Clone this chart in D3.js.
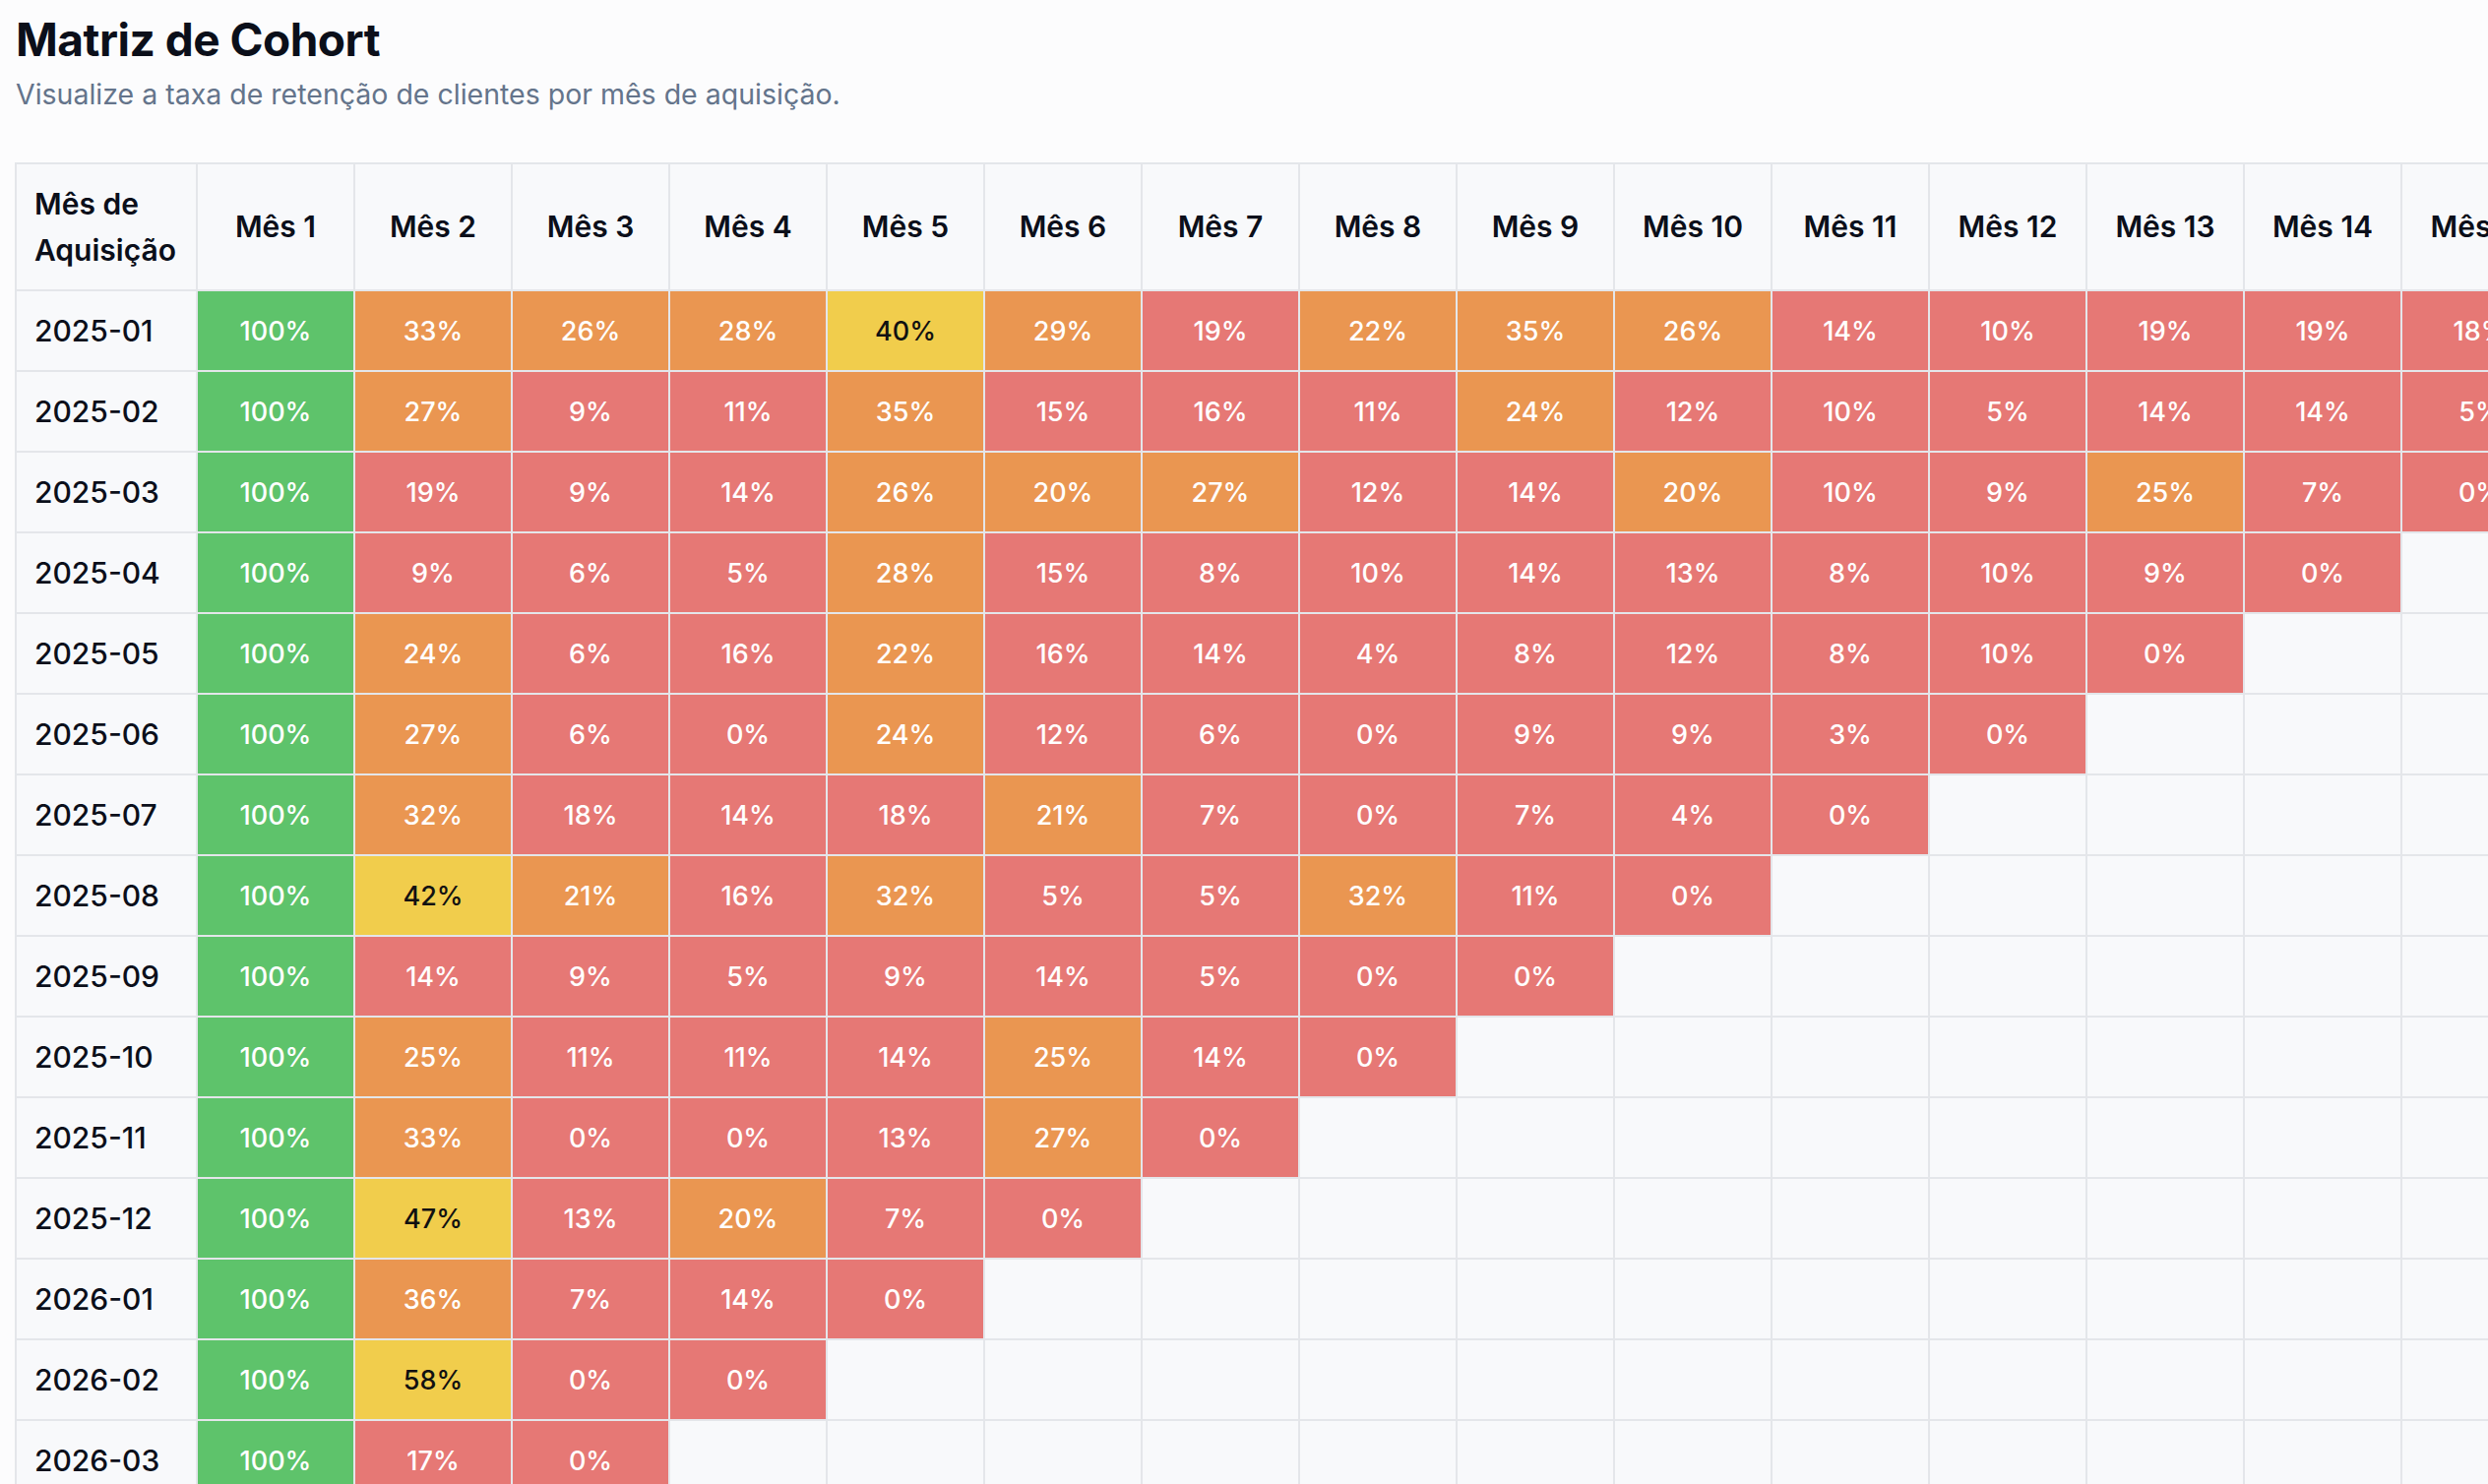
<!DOCTYPE html>
<html>
<head>
<meta charset="utf-8">
<script src="https://cdn.jsdelivr.net/npm/d3@7"></script>
<style>
  html, body { margin: 0; padding: 0; width: 2528px; height: 1508px; overflow: hidden; background: #fcfcfd; }
  svg { display: block; font-family: Inter, "Noto Sans", sans-serif; }
</style>
</head>
<body>
<svg id="chart" width="2528" height="1508"></svg>
<script>
const title = "Matriz de Cohort";
const subtitle = "Visualize a taxa de retenção de clientes por mês de aquisição.";
const cornerLabel = ["Mês de", "Aquisição"];
const months = ["Mês 1","Mês 2","Mês 3","Mês 4","Mês 5","Mês 6","Mês 7","Mês 8","Mês 9","Mês 10","Mês 11","Mês 12","Mês 13","Mês 14","Mês 15"];
const cohorts = ["2025-01","2025-02","2025-03","2025-04","2025-05","2025-06","2025-07","2025-08","2025-09","2025-10","2025-11","2025-12","2026-01","2026-02","2026-03"];
const r2025_01 = [100,33,26,28,40,29,19,22,35,26,14,10,19,19,18];
const r2025_02 = [100,27,9,11,35,15,16,11,24,12,10,5,14,14,5];
const r2025_03 = [100,19,9,14,26,20,27,12,14,20,10,9,25,7,0];
const r2025_04 = [100,9,6,5,28,15,8,10,14,13,8,10,9,0];
const r2025_05 = [100,24,6,16,22,16,14,4,8,12,8,10,0];
const r2025_06 = [100,27,6,0,24,12,6,0,9,9,3,0];
const r2025_07 = [100,32,18,14,18,21,7,0,7,4,0];
const r2025_08 = [100,42,21,16,32,5,5,32,11,0];
const r2025_09 = [100,14,9,5,9,14,5,0,0];
const r2025_10 = [100,25,11,11,14,25,14,0];
const r2025_11 = [100,33,0,0,13,27,0];
const r2025_12 = [100,47,13,20,7,0];
const r2026_01 = [100,36,7,14,0];
const r2026_02 = [100,58,0,0];
const r2026_03 = [100,17,0];
const retention = [r2025_01,r2025_02,r2025_03,r2025_04,r2025_05,r2025_06,r2025_07,r2025_08,r2025_09,r2025_10,r2025_11,r2025_12,r2026_01,r2026_02,r2026_03];

const svg = d3.select("#chart");

svg.append("rect").attr("width", 2528).attr("height", 1508).attr("fill", "#fcfcfd");

svg.append("text").attr("x", 16).attr("y", 57)
  .attr("font-size", 46).attr("font-weight", 700).attr("fill", "#0b0f1a")
  .attr("letter-spacing", "-0.5px").text(title);
svg.append("text").attr("x", 16).attr("y", 106)
  .attr("font-size", 28.5).attr("font-weight", 400).attr("fill", "#64748b")
  .text(subtitle);

const tableLeft = 16, firstColW = 184, colW = 160, headerTop = 166, headerH = 129, rowH = 82;
const x = d3.scaleBand().domain(months)
  .range([tableLeft + firstColW, tableLeft + firstColW + colW * months.length]).padding(0);
const y = d3.scaleBand().domain(cohorts)
  .range([headerTop + headerH, headerTop + headerH + rowH * cohorts.length]).padding(0);

const color = d3.scaleThreshold().domain([20, 40, 60])
  .range(["#e67875", "#ea9651", "#f1cd4c", "#5ec36b"]);
const textColor = d3.scaleThreshold().domain([40, 60])
  .range(["#ffffff", "#111111", "#ffffff"]);

const grid = "#e4e6ea";
const g = svg.append("g");

// header cells
g.append("rect").attr("x", tableLeft).attr("y", headerTop)
  .attr("width", firstColW).attr("height", headerH)
  .attr("fill", "#f8f9fb").attr("stroke", grid).attr("stroke-width", 2);
g.selectAll(".hcell").data(months).join("rect")
  .attr("x", d => x(d)).attr("y", headerTop)
  .attr("width", x.bandwidth()).attr("height", headerH)
  .attr("fill", "#f8f9fb").attr("stroke", grid).attr("stroke-width", 2);

const corner = g.append("text").attr("font-size", 30)
  .attr("font-weight", 600).attr("fill", "#0b0f1a");
corner.selectAll("tspan").data(cornerLabel).join("tspan")
  .attr("x", tableLeft + 19).attr("y", (d, i) => 218 + i * 47).text(d => d);

g.selectAll(".htext").data(months).join("text")
  .attr("x", d => x(d) + x.bandwidth() / 2).attr("y", headerTop + headerH / 2)
  .attr("dy", "0.36em").attr("text-anchor", "middle")
  .attr("font-size", 30).attr("font-weight", 600).attr("fill", "#0b0f1a")
  .text(d => d);

// row label cells
g.selectAll(".lcell").data(cohorts).join("rect")
  .attr("x", tableLeft).attr("y", d => y(d))
  .attr("width", firstColW).attr("height", y.bandwidth())
  .attr("fill", "#f8f9fb").attr("stroke", grid).attr("stroke-width", 2);
g.selectAll(".ltext").data(cohorts).join("text")
  .attr("x", tableLeft + 19).attr("y", d => y(d) + y.bandwidth() / 2)
  .attr("dy", "0.36em").attr("font-size", 30).attr("font-weight", 500).attr("fill", "#0b0f1a")
  .text(d => d);

// body cells
const allCells = [];
cohorts.forEach((c, i) => months.forEach((m, j) => {
  allCells.push({ cohort: c, month: m, value: retention[i][j] });
}));

const cells = g.selectAll(".cell").data(allCells).join("g");
cells.append("rect")
  .attr("x", d => x(d.month)).attr("y", d => y(d.cohort))
  .attr("width", x.bandwidth()).attr("height", y.bandwidth())
  .attr("fill", d => d.value === undefined ? "#f8f9fb" : color(d.value))
  .attr("stroke", grid).attr("stroke-width", 2);
cells.filter(d => d.value !== undefined).append("text")
  .attr("x", d => x(d.month) + x.bandwidth() / 2)
  .attr("y", d => y(d.cohort) + y.bandwidth() / 2)
  .attr("dy", "0.36em").attr("text-anchor", "middle")
  .attr("font-size", 27).attr("font-weight", 500)
  .attr("fill", d => textColor(d.value))
  .text(d => d.value + "%");
</script>
</body>
</html>
